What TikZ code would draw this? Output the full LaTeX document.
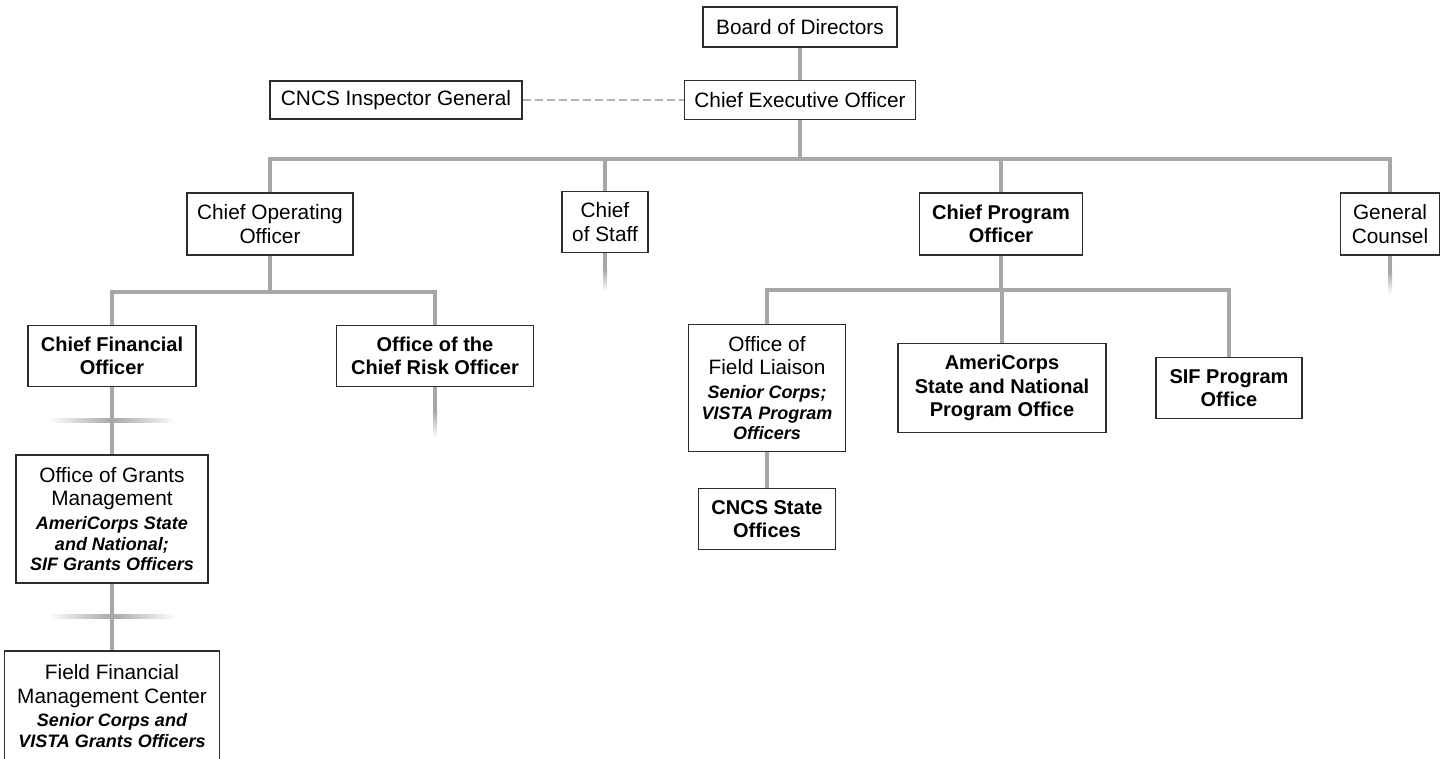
\documentclass[tikz,border=0pt]{standalone}
\usepackage{fontspec}
\setmainfont{Liberation Sans}
\usetikzlibrary{calc}
\definecolor{linkgray}{RGB}{167,167,170}
\definecolor{boxline}{RGB}{45,45,45}
\newcommand{\subline}[1]{{\fontsize{9}{10.3}\selectfont\bfseries\itshape #1}}

\begin{document}
\begin{tikzpicture}[x=0.5pt,y=-0.5pt,
	box/.style={draw=boxline, line width=0.65pt, fill=white, align=center, inner sep=0pt, font=\fontsize{10.4}{11.8}\selectfont},
	boldbox/.style={box, font=\fontsize{10}{11.8}\selectfont\bfseries},
	link/.style={draw=linkgray, line width=2pt},
	dashlink/.style={draw=linkgray!85, line width=1pt, dash pattern=on 4pt off 2pt}]
	\useasboundingbox (0,0) rectangle (1445,759);
	\node [box, minimum width=97pt, minimum height=20pt] (board) at (800,27) {Board of Directors};
	\node [box, minimum width=115.5pt, minimum height=19.5pt] (ceo) at (800,100) {Chief Executive Officer};
	\node [box, minimum width=126pt, minimum height=19pt] (ig) at (396,100) {CNCS Inspector General};
	\node [box, minimum width=83pt, minimum height=31pt] (coo) at (270,224) {Chief Operating\\Officer};
	\node [box, minimum width=43pt, minimum height=30.5pt] (cos) at (605,222) {Chief\\of Staff};
	\node [boldbox, minimum width=81.5pt, minimum height=31pt] (cpo) at (1001,224) {Chief Program\\Officer};
	\node [box, minimum width=49.5pt, minimum height=31pt] (gc) at (1390,224) {General\\Counsel};
	\node [boldbox, minimum width=84pt, minimum height=30.5pt] (cfo) at (112,356) {Chief Financial\\Officer};
	\node [boldbox, minimum width=98.5pt, minimum height=30.5pt] (cro) at (435,356) {Office of the\\Chief Risk Officer};
	\node [box, minimum width=96pt, minimum height=64pt] (ogm) at (112,519) {Office of Grants\\Management\\\subline{AmeriCorps State}\\[-1.5pt]\subline{and National;}\\[-1.5pt]\subline{SIF Grants Officers}};
	\node [box, minimum width=107.5pt, minimum height=55pt] (ffm) at (112,706) {Field Financial\\Management Center\\\subline{Senior Corps and}\\[-1.5pt]\subline{VISTA Grants Officers}};
	\node [box, minimum width=78.5pt, minimum height=63.5pt] (ofl) at (767,388) {Office of\\Field Liaison\\\subline{Senior Corps;}\\[-1.5pt]\subline{VISTA Program}\\[-1.5pt]\subline{Officers}};
	\node [boldbox, minimum width=68.5pt, minimum height=30.5pt] (cso) at (767,519) {CNCS State\\Offices};
	\node [boldbox, minimum width=104pt, minimum height=44.5pt] (ame) at (1002,388) {AmeriCorps\\State and National\\Program Office};
	\node [boldbox, minimum width=73pt, minimum height=30.5pt] (sif) at (1229,388) {SIF Program\\Office};
	\coordinate (topbus) at (800,159);
	\coordinate (coobus) at (270,292);
	\coordinate (cpobus) at (1001,290);
	\draw [link] (board) -- (ceo);
	\draw [dashlink] (ig) -- (ceo);
	\draw [link] (ceo) -- (topbus);
	\draw [link] (coo.north) |- (topbus) -| (gc.north);
	\draw [link] (cos.north) -- (cos.north |- topbus);
	\draw [link] (cpo.north) -- (cpo.north |- topbus);
	\draw [link] (coo) -- (coobus);
	\draw [link] (cfo.north) |- (coobus) -| (cro.north);
	\draw [link] (cpo) -- (cpobus);
	\draw [link] (ofl.north) |- (cpobus) -| (sif.north);
	\draw [link] (ame.north) -- (ame.north |- cpobus);
	\draw [link] (ofl) -- (cso);
	\fill [linkgray] ($(cos.south)+(-2,0)$) rectangle ++(4,16);
	\shade [top color=linkgray, bottom color=white] ($(cos.south)+(-2,16)$) rectangle ++(4,22);
	\fill [linkgray] ($(gc.south)+(-2,0)$) rectangle ++(4,16);
	\shade [top color=linkgray, bottom color=white] ($(gc.south)+(-2,16)$) rectangle ++(4,22);
	\fill [linkgray] ($(cro.south)+(-2,0)$) rectangle ++(4,24);
	\shade [top color=linkgray, bottom color=white] ($(cro.south)+(-2,24)$) rectangle ++(4,26);
	\shade [left color=white, right color=white, middle color=linkgray] ($(cfo.south)+(-65,31)$) rectangle ++(130,4);
	\shade [left color=white, right color=white, middle color=linkgray] ($(ogm.south)+(-65,31)$) rectangle ++(130,4);
	\draw [link] (cfo) -- (ogm);
	\draw [link] (ogm) -- (ffm);
\end{tikzpicture}
\end{document}
